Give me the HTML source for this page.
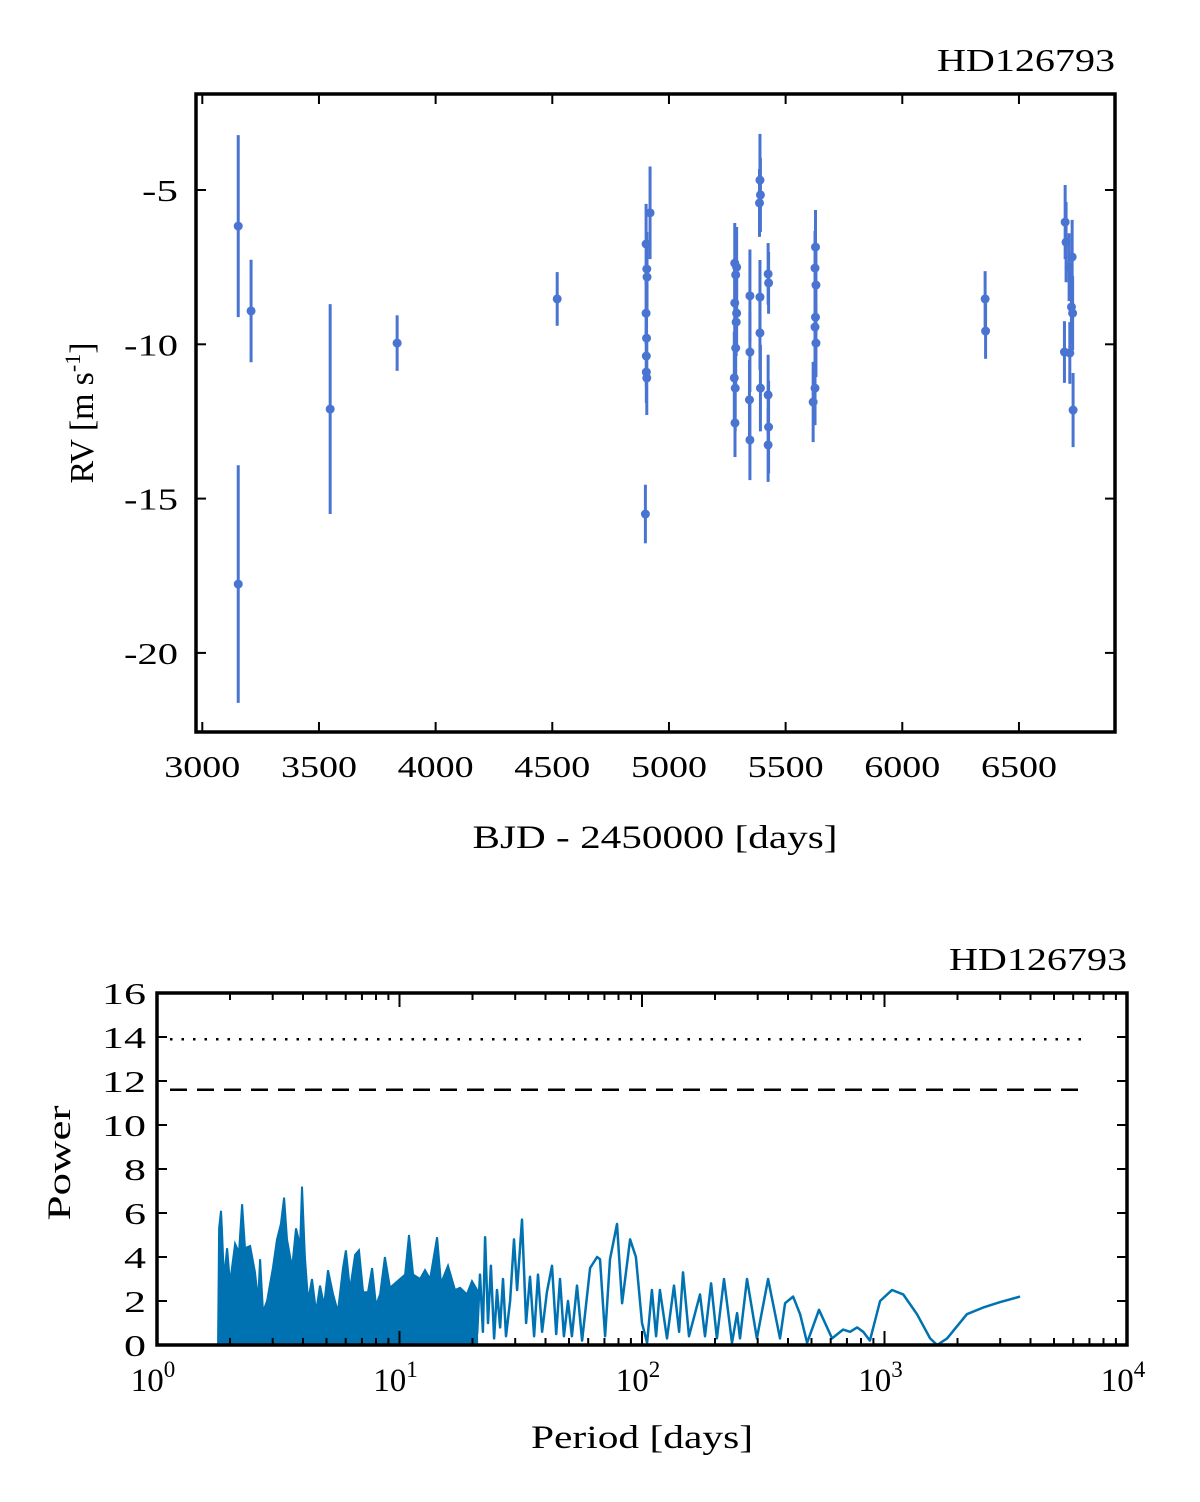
<!DOCTYPE html>
<html><head><meta charset="utf-8"><style>
html,body{margin:0;padding:0;background:#fff;}
svg{display:block;font-family:"Liberation Serif",serif;}
</style></head><body>
<svg id="fig" width="1200" height="1502" viewBox="0 0 1200 1502"></svg>
<script>
// ---- RV data (top panel) ----
const rvTimes = [3154,3154,3209,3548,3835,4521,4899,
 4919,4902,4905,4906,4902,4904,4903,4903,4905,
 5282,5290,5286,5282,5290,5288,5286,5280,5284,5283,
 5347,5347,5345,5347,
 5390,5392,5388,5390,5390,5392,
 5425,5427,5425,5427,5425,
 5628,5626,5630,5628,5626,5630,5626,5618,
 6355,6357,
 6698,6702,6728,6715,6725,6730,6718,6732,6695];
const rvValues = [-6.17,-17.77,-8.92,-12.1,-9.96,-8.53,-15.5,
 -5.74,-6.75,-7.56,-7.82,-8.99,-9.80,-10.38,-10.90,-11.09,
 -7.37,-7.50,-7.75,-8.66,-8.99,-9.28,-10.12,-11.09,-11.42,-12.55,
 -8.43,-10.25,-11.80,-13.10,
 -4.68,-5.16,-5.42,-8.47,-9.63,-11.42,
 -7.72,-8.01,-11.64,-12.68,-13.26,
 -6.85,-7.53,-8.08,-9.12,-9.44,-9.96,-11.42,-11.87,
 -8.53,-9.57,
 -6.04,-6.69,-7.17,-7.50,-8.79,-8.99,-10.28,-12.13,-10.25];
const rvErrors = [2.95,3.85,1.66,3.4,0.9,0.87,0.95,
 1.5,1.3,1.2,1.1,1.0,1.1,1.0,1.0,1.2,
 1.3,1.3,1.2,1.2,1.2,1.1,1.3,1.5,1.4,1.1,
 1.5,1.3,1.3,1.3,
 1.5,1.2,1.1,1.2,1.2,1.4,
 1.0,1.0,1.3,1.5,1.2,
 1.2,1.2,1.1,1.1,1.2,1.1,1.2,1.3,
 0.9,0.9,
 1.2,1.3,1.2,1.1,1.2,1.2,1.0,1.2,1.0];
const rvXTicks = [3000,3500,4000,4500,5000,5500,6000,6500];
const rvYTicks = [-5,-10,-15,-20];
const rvYTickLabels = ["-5","-10","-15","-20"];

// ---- Periodogram (bottom panel) ----
const denseLogPeriod = [0.252,0.256,0.264,0.268,0.276,0.289,0.301,0.322,0.338,0.351,0.363,0.384,0.404,0.417,0.425,0.437,0.454,0.478,0.495,0.511,0.524,0.536,0.557,0.573,0.590,0.598,0.610,0.623,0.639,0.656,0.672,0.689,0.705,0.726,0.746,0.767,0.779,0.796,0.817,0.833,0.850,0.870,0.887,0.903,0.920,0.940,0.961,1.002,1.023,1.039,1.056,1.085,1.105,1.126,1.155,1.171,1.200,1.229,1.250,1.278,1.299,1.320];
const densePower = [0.2,5.3,6.1,5.2,3.0,4.4,2.8,4.6,4.2,6.4,4.4,4.5,3.3,2.0,3.9,1.5,2.0,3.5,4.8,5.5,6.7,4.8,3.5,5.3,4.5,7.2,4.0,2.0,3.0,1.5,2.7,1.8,3.4,2.3,1.5,3.5,4.3,2.5,4.1,4.3,2.4,2.4,3.5,1.8,2.3,4.0,2.6,3.0,3.2,5.0,3.2,3.0,3.4,3.0,4.9,2.8,3.6,2.5,2.6,2.3,2.9,2.5];
const lineLogPeriod = [1.320,1.332,1.344,1.353,1.365,1.377,1.390,1.402,1.415,1.427,1.439,1.456,1.472,1.485,1.505,1.522,1.538,1.555,1.571,1.588,1.608,1.629,1.646,1.662,1.678,1.695,1.711,1.732,1.753,1.786,1.815,1.827,1.848,1.868,1.897,1.918,1.951,1.975,2.000,2.021,2.041,2.058,2.074,2.103,2.132,2.153,2.169,2.194,2.239,2.260,2.285,2.309,2.338,2.371,2.392,2.404,2.433,2.474,2.520,2.569,2.590,2.623,2.652,2.681,2.730,2.784,2.829,2.858,2.887,2.912,2.940,2.982,3.031,3.077,3.134,3.188,3.217,3.258,3.340,3.406,3.477,3.559];
const linePower = [0.5,3.2,0.6,4.9,1.0,3.6,0.3,2.5,0.8,3.0,0.4,2.0,4.8,2.5,5.7,1.0,3.1,0.4,3.2,0.6,2.4,3.6,0.5,3.0,0.4,2.0,0.4,2.7,0.2,3.5,4.0,3.9,0.4,3.9,5.5,1.9,4.8,4.0,1.0,0.1,2.5,0.4,2.5,0.3,2.7,0.6,3.3,0.4,2.3,0.4,2.8,0.3,3.0,0.1,1.45,0.3,3.0,0.3,3.0,0.3,1.9,2.2,1.4,0.1,1.6,0.3,0.7,0.6,0.8,0.6,0.2,2.0,2.5,2.3,1.4,0.3,0.0,0.3,1.4,1.7,1.95,2.2];
const fapLevels = [13.9,11.6];
const powerTicks = [0,2,4,6,8,10,12,14,16];
const periodDecades = [0,1,2,3,4];

const svg = document.getElementById('fig');
const NS = 'http://www.w3.org/2000/svg';
function mk(tag, attrs, parent){const e=document.createElementNS(NS,tag);for(const k in attrs)e.setAttribute(k,attrs[k]);(parent||svg).appendChild(e);return e;}

// ===== Top panel =====
const T = {l:196,r:1115,t:94,b:732};
const xT = v => 202.3 + (v-3000)*0.23333;
const yT = v => 190 - (v+5)*30.86;
const gTop = mk('g',{});


const ttl1 = mk('text',{x:1115,y:71,'text-anchor':'end','font-size':32,textLength:178,lengthAdjust:'spacingAndGlyphs'},gTop);
ttl1.textContent='HD126793';


rvXTicks.forEach(v=>{
  const x=xT(v);
  mk('line',{x1:x,x2:x,y1:T.b,y2:T.b-10,stroke:'#000','stroke-width':2},gTop);
  mk('line',{x1:x,x2:x,y1:T.t,y2:T.t+10,stroke:'#000','stroke-width':2},gTop);
  const t=mk('text',{x:x,y:777,'text-anchor':'middle','font-size':31,textLength:76,lengthAdjust:'spacingAndGlyphs'},gTop);
  t.textContent=String(v);
  
  
});
rvYTicks.forEach((v,i)=>{
  const y=yT(v);
  mk('line',{x1:T.l,x2:T.l+10,y1:y,y2:y,stroke:'#000','stroke-width':2},gTop);
  mk('line',{x1:T.r,x2:T.r-10,y1:y,y2:y,stroke:'#000','stroke-width':2},gTop);
  const t=mk('text',{x:178,y:y+11,'text-anchor':'end','font-size':31,textLength:i===0?36:54,lengthAdjust:'spacingAndGlyphs'},gTop);
  t.textContent=rvYTickLabels[i];
  
  
});
rvTimes.forEach((tv,i)=>{
  const x=xT(tv), y=yT(rvValues[i]), e=rvErrors[i]*30.86;
  const eb=mk('line',{x1:x,x2:x,y1:y-e,y2:y+e,stroke:'#4a74d2','stroke-width':3},gTop);
  
  
  const c=mk('circle',{cx:x,cy:y,r:4.5,fill:'#4a74d2'},gTop);
  
  
});
const fr1=mk('rect',{x:T.l,y:T.t,width:T.r-T.l,height:T.b-T.t,fill:'none',stroke:'#000','stroke-width':3.5},gTop);


const xl1=mk('text',{x:655,y:848,'text-anchor':'middle','font-size':33,textLength:365,lengthAdjust:'spacingAndGlyphs'},gTop);
xl1.textContent='BJD - 2450000 [days]';


const yl1=mk('text',{transform:'translate(93,413) rotate(-90)','text-anchor':'middle','font-size':34},gTop);
yl1.innerHTML='RV [m<tspan dx="8">s</tspan><tspan dy="-13" font-size="22">-1</tspan><tspan dy="13">]</tspan>';



// ===== Bottom panel =====
const B = {l:157,r:1127,t:993,b:1345};
const xB = lp => B.l + lp*242.5;
const yB = p => B.b - p*22;
const gBot = mk('g',{});


const ttl2=mk('text',{x:1127,y:970,'text-anchor':'end','font-size':32,textLength:178,lengthAdjust:'spacingAndGlyphs'},gBot);
ttl2.textContent='HD126793';


let d='M'+xB(denseLogPeriod[0])+','+yB(0);
denseLogPeriod.forEach((lp,i)=>{d+=' L'+xB(lp).toFixed(1)+','+yB(densePower[i]).toFixed(1);});
d+=' L'+xB(denseLogPeriod[denseLogPeriod.length-1])+','+yB(0)+' Z';
const df=mk('path',{d:d,fill:'#0072b2',stroke:'#0072b2','stroke-width':2},gBot);


let d2='';
lineLogPeriod.forEach((lp,i)=>{d2+=(i?' L':'M')+xB(lp).toFixed(1)+','+yB(linePower[i]).toFixed(1);});
const pl=mk('path',{d:d2,fill:'none',stroke:'#0072b2','stroke-width':2.5,'stroke-linejoin':'round'},gBot);


fapLevels.forEach((v,i)=>{
  const l=mk('line',{x1:170,x2:1085,y1:yB(v),y2:yB(v),stroke:'#000','stroke-width':2.5,'stroke-dasharray':i===0?'2.5,9':'17,10'},gBot);
  
  
});
powerTicks.forEach(v=>{
  const y=yB(v);
  mk('line',{x1:B.l,x2:B.l+10,y1:y,y2:y,stroke:'#000','stroke-width':2},gBot);
  mk('line',{x1:B.r,x2:B.r-10,y1:y,y2:y,stroke:'#000','stroke-width':2},gBot);
  const s=String(v);
  const t=mk('text',{x:146,y:y+11,'text-anchor':'end','font-size':31,textLength:s.length*22,lengthAdjust:'spacingAndGlyphs'},gBot);
  t.textContent=s;
  
  
});
periodDecades.forEach(dec=>{
  const x=xB(dec);
  mk('line',{x1:x,x2:x,y1:B.b,y2:B.b-14,stroke:'#000','stroke-width':2},gBot);
  mk('line',{x1:x,x2:x,y1:B.t,y2:B.t+14,stroke:'#000','stroke-width':2},gBot);
  if(dec<4){for(let m=2;m<10;m++){const xm=xB(dec+Math.log10(m));
    mk('line',{x1:xm,x2:xm,y1:B.b,y2:B.b-7,stroke:'#000','stroke-width':2},gBot);
    mk('line',{x1:xm,x2:xm,y1:B.t,y2:B.t+7,stroke:'#000','stroke-width':2},gBot);}}
  const t=mk('text',{x:x-4,y:1391,'text-anchor':'middle','font-size':33},gBot);
  t.innerHTML='10<tspan dy="-14" font-size="23">'+dec+'</tspan>';
  
  
});
const fr2=mk('rect',{x:B.l,y:B.t,width:B.r-B.l,height:B.b-B.t,fill:'none',stroke:'#000','stroke-width':3.5},gBot);


const xl2=mk('text',{x:642,y:1448,'text-anchor':'middle','font-size':33,textLength:222,lengthAdjust:'spacingAndGlyphs'},gBot);
xl2.textContent='Period [days]';


const yl2=mk('text',{transform:'translate(70,1163) rotate(-90)','text-anchor':'middle','font-size':33,textLength:115,lengthAdjust:'spacingAndGlyphs'},gBot);
yl2.textContent='Power';


</script>
</body></html>
